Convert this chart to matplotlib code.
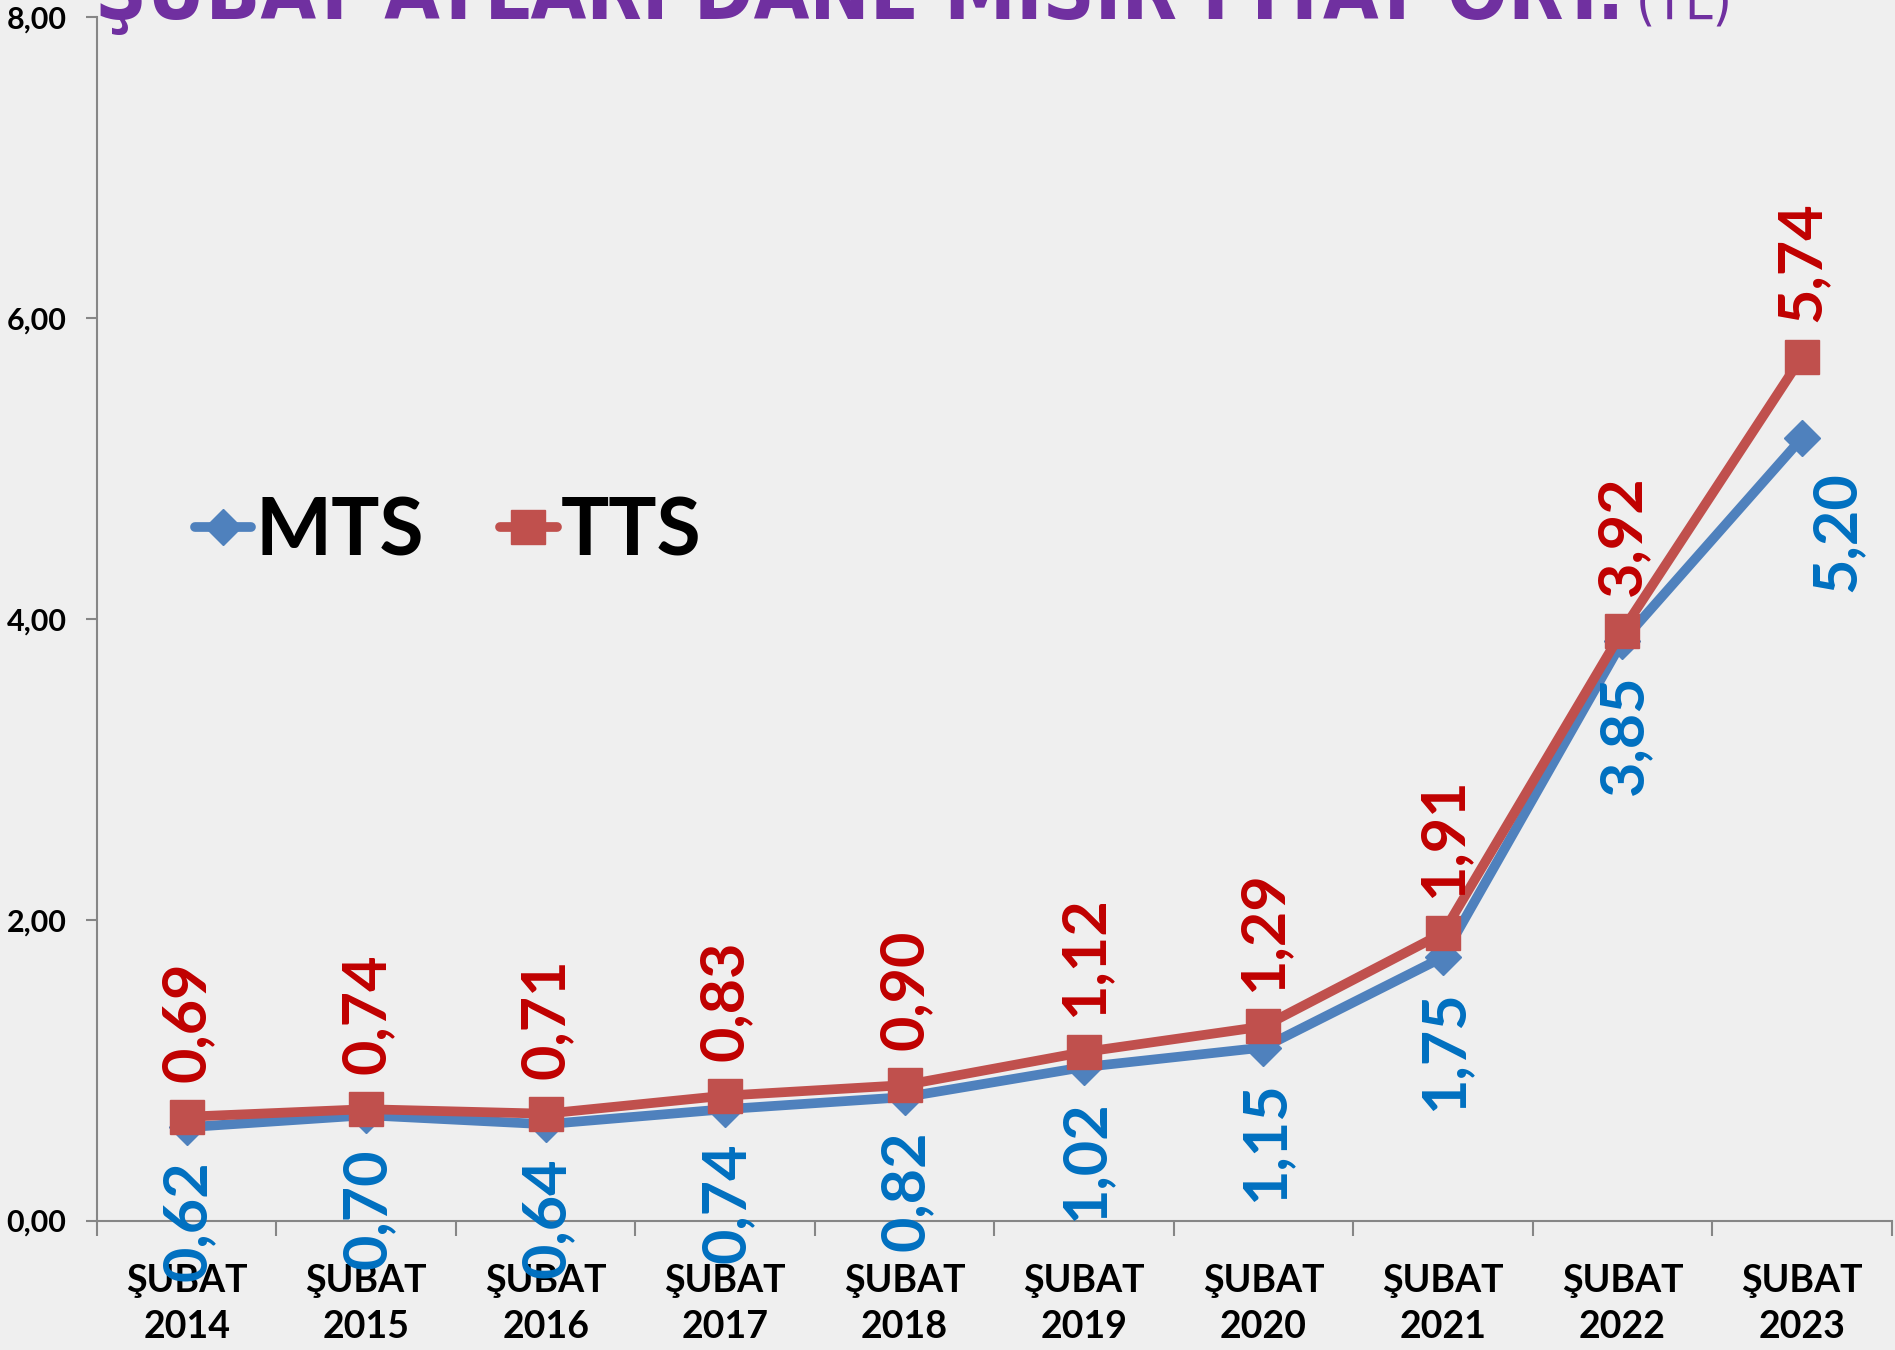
import matplotlib
matplotlib.use("Agg")
import matplotlib.pyplot as plt
import numpy as np

plt.rcParams['font.family'] = ['Lato', 'DejaVu Sans']

years = ["2014", "2015", "2016", "2017", "2018", "2019", "2020", "2021", "2022", "2023"]
x_labels = ["ŞUBAT\n" + y for y in years]
mts = [0.62, 0.70, 0.64, 0.74, 0.82, 1.02, 1.15, 1.75, 3.85, 5.20]
tts = [0.69, 0.74, 0.71, 0.83, 0.90, 1.12, 1.29, 1.91, 3.92, 5.74]
y_ticks = [0, 2, 4, 6, 8]
title_main = "ŞUBAT AYLARI DANE MISIR FİYAT ORT."
title_unit = "(TL)"

mts_line = "#4F81BD"
mts_text = "#0070C0"
tts_line = "#C0504D"
tts_text = "#C00000"

fig = plt.figure(figsize=(18.95, 13.5), dpi=100)
fig.patch.set_facecolor("#efefef")
ax = fig.add_axes([0.0512, 0.0959, 0.947, 0.8916])
ax.set_facecolor("none")

x = np.arange(len(years))
ax.plot(x, mts, color=mts_line, lw=7, marker="D", ms=18, label="MTS", zorder=3,
        solid_joinstyle="round", solid_capstyle="round")
ax.plot(x, tts, color=tts_line, lw=7, marker="s", ms=24, label="TTS", zorder=4,
        solid_joinstyle="round", solid_capstyle="round")

lab_kw = dict(rotation=90, fontsize=44, fontweight="bold", ha="center",
              textcoords="offset points", annotation_clip=False)
for i, v in enumerate(mts):
    dx = 25 if i == len(mts) - 1 else 1
    ax.annotate(f"{v:.2f}".replace(".", ","), (x[i], v), xytext=(dx, -24),
                va="top", color=mts_text, zorder=5, **lab_kw)
for i, v in enumerate(tts):
    ax.annotate(f"{v:.2f}".replace(".", ","), (x[i], v), xytext=(0, 25),
                va="bottom", color=tts_text, zorder=5, **lab_kw)

ax.set_xlim(-0.5, len(years) - 0.5)
ax.set_ylim(0, 8)
ax.set_yticks(y_ticks)
ax.set_yticklabels([f"{t:.2f}".replace(".", ",") for t in y_ticks],
                   fontsize=22, fontweight="bold")
ax.set_xticks(x)
ax.set_xticklabels(x_labels, fontsize=27, fontweight="bold", linespacing=1.45)
ax.set_xticks(np.arange(-0.5, len(years)), minor=True)
ax.tick_params(axis="x", which="major", length=0, pad=31)
ax.tick_params(axis="x", which="minor", length=11, width=1.5, color="#868686", direction="out")
ax.tick_params(axis="y", length=8, width=1.5, color="#868686", pad=14)

for s in ["top", "right"]:
    ax.spines[s].set_visible(False)
for s in ["left", "bottom"]:
    ax.spines[s].set_color("#868686")
    ax.spines[s].set_linewidth(1.5)

leg = ax.legend(loc="center left", bbox_to_anchor=(0.014, 0.572), ncol=2, frameon=False,
                handlelength=0.7, handletextpad=0.05, columnspacing=0.95,
                prop={"weight": "bold", "size": 58})

t1 = fig.text(0.05, 0.986, title_main, color="#7030A0", fontsize=62, fontweight="bold",
              family="DejaVu Sans", fontstretch="condensed", va="baseline", ha="left")
fig.canvas.draw()
bb = t1.get_window_extent()
t1.set_fontsize(62 * 1530 / bb.width)
fig.canvas.draw()
bb = t1.get_window_extent()
fig.text(bb.x1 / fig.bbox.width + 0.006, 0.986, title_unit, color="#7030A0", fontsize=40,
         family="DejaVu Sans", fontstretch="condensed", va="baseline", ha="left")

fig.savefig("out.png", dpi=100, facecolor=fig.get_facecolor())
